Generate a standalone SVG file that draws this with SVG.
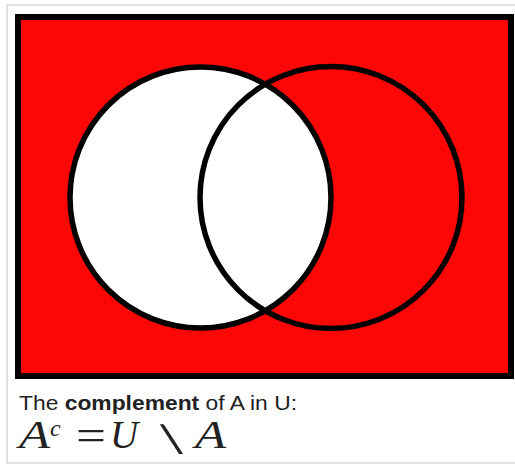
<svg xmlns="http://www.w3.org/2000/svg" width="515" height="464" viewBox="0 0 515 464">
<style>
.frame{fill:#fff;stroke:#d8d8d8;stroke-width:1.5}
.u{fill:#fe0606;stroke:#000;stroke-width:6}
.set{fill:none;stroke:#000;stroke-width:5.5}
.cap{font-family:"Liberation Sans",Arial,sans-serif;font-size:20px;fill:#222}
.m{font-family:"Liberation Serif","Times New Roman",serif;font-style:italic;fill:#222}
.mr{font-family:"Liberation Serif","DejaVu Serif",serif;fill:#222}
.ms{font-family:"DejaVu Sans","DejaVu Serif",sans-serif;fill:#222}
</style>
<rect class="frame" x="7" y="5" width="520" height="458"/>
<g id="universe"><rect class="u" x="18" y="17" width="493" height="359"/></g>
<g id="setA"><circle cx="200.5" cy="197.5" r="130.5" fill="#fff"/></g>
<g id="setB"><circle class="set" cx="331" cy="197.5" r="131"/></g>
<g id="setA-outline"><circle class="set" cx="200.5" cy="197.5" r="130.5"/></g>
<g id="caption">
<text class="cap" x="19" y="410" textLength="278" lengthAdjust="spacingAndGlyphs">The <tspan font-weight="bold">complement</tspan> of A in U:</text>
<text class="m" x="19" y="448" font-size="39" textLength="31" lengthAdjust="spacingAndGlyphs">A</text>
<text class="m" x="50" y="436" font-size="24">c</text>
<text class="mr" x="76" y="450" font-size="44" textLength="30" lengthAdjust="spacingAndGlyphs">=</text>
<text class="m" x="110" y="448" font-size="39">U</text>
<text class="ms" transform="translate(144,452) scale(1.9,0.9)" x="0" y="0" font-size="40" font-weight="300">∖</text>
<text class="m" x="195" y="448" font-size="39" textLength="31" lengthAdjust="spacingAndGlyphs">A</text>
</g>
</svg>
